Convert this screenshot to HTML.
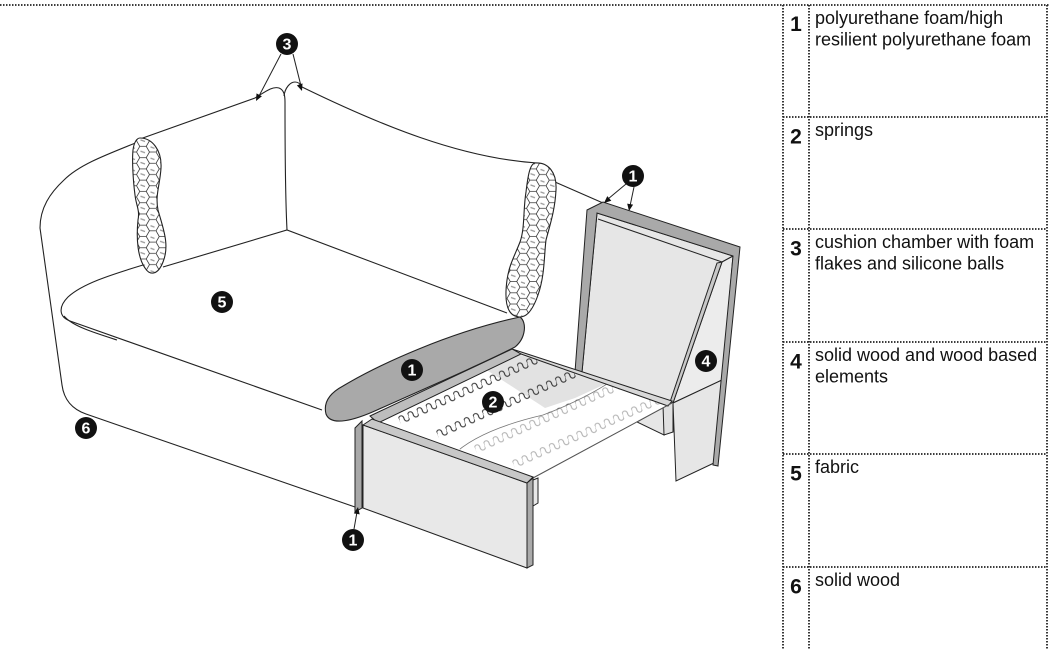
<!DOCTYPE html>
<html><head><meta charset="utf-8"><style>
html,body{margin:0;padding:0;background:#fff;width:1053px;height:649px;overflow:hidden}
svg{display:block}
.t{font-family:"Liberation Sans",Arial,sans-serif;font-size:18px;fill:#111}
.n{font-family:"Liberation Sans",Arial,sans-serif;font-size:21px;font-weight:bold;fill:#111}
.c{font-family:"Liberation Sans",Arial,sans-serif;font-size:16px;font-weight:bold;fill:#fff}
</style></head><body>
<svg width="1053" height="649" viewBox="0 0 1053 649" xmlns="http://www.w3.org/2000/svg">
<defs>
  <pattern id="hex" width="19.5" height="11.26" patternUnits="userSpaceOnUse">
    <rect width="19.5" height="11.26" fill="#fff"/>
    <path d="M4,4.8 l4.5,1.6 M14,0.5 l4,1.4" stroke="#9a9a9a" stroke-width="1.3" fill="none"/>
    <path d="M0,5.63 L3.25,0 L9.75,0 L13,5.63 L9.75,11.26 L3.25,11.26 Z M13,5.63 L19.5,5.63" stroke="#333" stroke-width="0.75" fill="none"/>
  </pattern>
  <pattern id="spr" width="10" height="12" patternUnits="userSpaceOnUse">
    <path d="M0,6 C-0.8,1 5.8,1 5,6 C4.2,11 10.8,11 10,6" stroke="#333" stroke-width="1.1" fill="none"/>
  </pattern>
  <clipPath id="mat"><polygon points="375,416 512,350 672,403 533,478"/></clipPath>
</defs>

<!-- table dotted lines -->
<g stroke="#222" stroke-width="1.8" stroke-dasharray="1.5 1.5" fill="none">
  <line x1="0" y1="5" x2="1049" y2="5"/>
  <line x1="783" y1="5" x2="783" y2="649"/>
  <line x1="809" y1="5" x2="809" y2="649"/>
  <line x1="1047" y1="5" x2="1047" y2="649"/>
  <line x1="783" y1="117" x2="1047" y2="117"/>
  <line x1="783" y1="229" x2="1047" y2="229"/>
  <line x1="783" y1="342" x2="1047" y2="342"/>
  <line x1="783" y1="454" x2="1047" y2="454"/>
  <line x1="783" y1="567" x2="1047" y2="567"/>
</g>
<g>
  <text class="n" x="796" y="31" text-anchor="middle">1</text>
  <text class="t" x="815" y="24">polyurethane foam/high</text>
  <text class="t" x="815" y="45.5">resilient polyurethane foam</text>
  <text class="n" x="796" y="143.5" text-anchor="middle">2</text>
  <text class="t" x="815" y="136">springs</text>
  <text class="n" x="796" y="255.5" text-anchor="middle">3</text>
  <text class="t" x="815" y="248">cushion chamber with foam</text>
  <text class="t" x="815" y="269.5">flakes and silicone balls</text>
  <text class="n" x="796" y="368.5" text-anchor="middle">4</text>
  <text class="t" x="815" y="361">solid wood and wood based</text>
  <text class="t" x="815" y="382.5">elements</text>
  <text class="n" x="796" y="480.5" text-anchor="middle">5</text>
  <text class="t" x="815" y="473">fabric</text>
  <text class="n" x="796" y="593.5" text-anchor="middle">6</text>
  <text class="t" x="815" y="586">solid wood</text>
</g>

<!-- sofa outlines -->
<g stroke="#222" stroke-width="1.1" fill="none">
  <path d="M138,142 C100,157 78,166 64,180 C50,193 40,208 40,228 L62,385 C64,400 72,409 86,414 L355,507"/>
  <path d="M143,265 C110,275 82,284 68,297 C58,307 59,317 70,321 L322,410"/>
  <path d="M64,316 C72,326 95,333 117,340"/>
  <path d="M140,139 L255,98 C265,92 272,86 279,88 C284,90 285,95 285,102 C285,140 285,190 287,230"/>
  <path d="M284,96 C285,88 290,82 295,82 C299,82 301,85 302,87 C380,125 460,158 537,163"/>
  <path d="M163,267 L287,230 L507,313"/>
  <path d="M555,182 L603,203"/>
</g>
<!-- cylinders -->
<path d="M140,138 C152,138 162,150 161,168 C160,185 155,195 158,210 C163,228 170,245 163,262 C158,275 150,276 145,268 C138,258 136,240 138,220 C140,210 136,205 135,195 C133,180 132,160 133,150 C134,142 137,138 140,138 Z" fill="url(#hex)" stroke="#222" stroke-width="1.1"/>
<path d="M535,163 C548,162 557,172 556,190 C555,210 550,225 546,240 C544,255 545,275 538,295 C532,312 525,320 515,316 C505,312 505,295 507,280 C509,265 515,255 520,242 C525,228 523,210 526,192 C528,175 530,164 535,163 Z" fill="url(#hex)" stroke="#222" stroke-width="1.1"/>

<!-- right arm panel -->
<g stroke="#222" stroke-width="1">
  <polygon points="597,213 733,256 722,262 673,403 582,372" fill="#e6e6e6"/>
  <polygon points="722,262 733,256 722,380 673,403" fill="#ececec"/>
  <polygon points="722,262 717,263 670,402 673,403" fill="#c8c8c8"/>
  <polygon points="673,403 722,380 714,463 676,481" fill="#e6e6e6"/>
  <polygon points="587,210 603,202 740,247 718,466 713,465 733,256 597,213 582,372 575,372" fill="#a9a9a9"/>
  <line x1="598" y1="219" x2="722" y2="262"/>
</g>
<!-- bed rear block -->
<g stroke="#222" stroke-width="1">
  <polygon points="637,422 664,407 664,435" fill="#e6e6e6"/>
  <polygon points="663,405 673,402 673,432 664,435" fill="#e0e0e0"/>
</g>

<!-- mattress -->
<polygon points="375,416 512,350 672,403 533,478" fill="#fff"/>
<polygon points="482,367 520,355 612,381 575,398 545,408" fill="#e2e2e2" clip-path="url(#mat)"/>
<g clip-path="url(#mat)">
  <rect x="0" y="0" width="150" height="12" fill="url(#spr)" transform="translate(397,415) rotate(-24)"/>
  <rect x="0" y="0" width="160" height="12" fill="url(#spr)" transform="translate(435,429) rotate(-24)"/>
  <rect x="0" y="0" width="160" height="12" fill="url(#spr)" transform="translate(473,444) rotate(-24)"/>
  <rect x="0" y="0" width="160" height="12" fill="url(#spr)" transform="translate(511,459) rotate(-24)"/>
  <path d="M452,456 C470,438 500,425 543,415 C570,405 600,390 617,377 L672,403 L533,478 Z" fill="#fff" fill-opacity="0.62" stroke="#777" stroke-width="0.8"/>
</g>
<g stroke="#222" stroke-width="1">
  <polygon points="512,349 672,401 668,406 521,354" fill="#d8d8d8"/>
  <polygon points="370,416 512,349 521,354 378,423" fill="#bdbdbd"/>
  <line x1="672" y1="403" x2="533" y2="478" stroke="#555"/>
</g>

<!-- front panel -->
<g stroke="#222" stroke-width="1">
  <polygon points="533,480 538,478 538,503 533,506" fill="#e8e8e8"/>
  <polygon points="363,425 527,483 527,568 363,508" fill="#e8e8e8"/>
  <polygon points="363,425 372,419 533,477 527,483" fill="#c8c8c8"/>
  <polygon points="527,483 533,478 533,565 527,568" fill="#aaaaaa"/>
  <polygon points="355,428 362,421 362,508 355,512" fill="#a8a8a8"/>
</g>

<!-- foam cushion -->
<path d="M326,414 C323,402 330,393 343,386 C380,364 450,332 520,317 C527,322 526,338 515,347 C490,360 440,382 377,410 C355,420 331,427 326,414 Z" fill="#a9a9a9" stroke="#222" stroke-width="1.1"/>

<!-- arrows -->
<g stroke="#222" stroke-width="1" fill="none">
  <line x1="281" y1="54" x2="259" y2="96"/>
  <line x1="293" y1="54" x2="301" y2="86"/>
  <line x1="626" y1="184" x2="608" y2="199"/>
  <line x1="634" y1="187" x2="630" y2="206"/>
  <line x1="354" y1="529" x2="357" y2="512"/>
</g>
<g fill="#111">
  <polygon points="256,101 261.9,96.2 256.5,93.4"/>
  <polygon points="302,91 302.5,83.4 296.9,85.4"/>
  <polygon points="604,203 611.3,200.7 607.3,196.1"/>
  <polygon points="629,211 633.1,204.6 627.2,203.6"/>
  <polygon points="358,507 359.7,514.4 353.8,513.4"/>
</g>

<!-- labels -->
<g fill="#111">
  <circle cx="287" cy="44" r="11"/>
  <circle cx="222" cy="302" r="11"/>
  <circle cx="86" cy="428" r="11"/>
  <circle cx="353" cy="540" r="11"/>
  <circle cx="412" cy="370" r="11"/>
  <circle cx="493" cy="402" r="11"/>
  <circle cx="706" cy="361" r="11"/>
  <circle cx="633" cy="176" r="11"/>
</g>
<g text-anchor="middle">
  <text class="c" x="287" y="49.5">3</text>
  <text class="c" x="222" y="307.5">5</text>
  <text class="c" x="86" y="433.5">6</text>
  <text class="c" x="353" y="545.5">1</text>
  <text class="c" x="412" y="375.5">1</text>
  <text class="c" x="493" y="407.5">2</text>
  <text class="c" x="706" y="366.5">4</text>
  <text class="c" x="633" y="181.5">1</text>
</g>
</svg>
</body></html>
